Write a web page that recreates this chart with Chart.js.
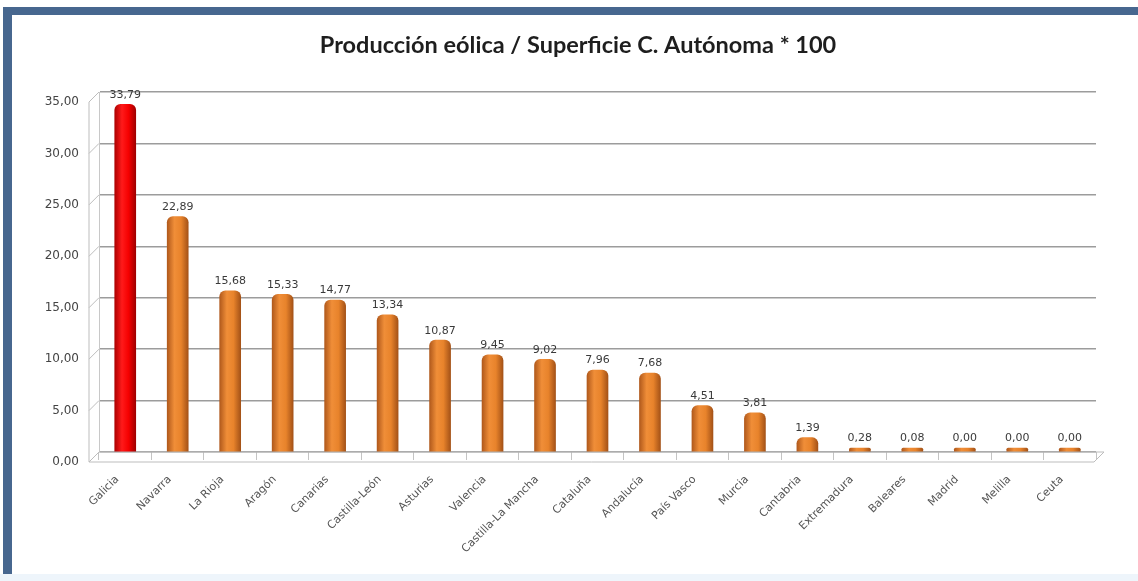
<!DOCTYPE html>
<html>
<head>
<meta charset="utf-8">
<script src="https://cdn.jsdelivr.net/npm/chart.js@4.4.1/dist/chart.umd.min.js"></script>
<style>
  html, body { margin: 0; padding: 0; background: #ffffff; }
  #frame {
    position: absolute; left: 3px; top: 7px; width: 1126px; height: 566px;
    border-top: 8px solid #47678f; border-left: 9px solid #47678f;
    background: #ffffff;
  }
  #foot { position: absolute; left: 0; top: 574px; width: 1138px; height: 7px; background: #eef5fb; }
  #wrap { position: absolute; left: 0; top: 0; width: 1138px; height: 581px; }
</style>
</head>
<body>
<div id="frame"></div>
<div id="foot"></div>
<div id="wrap"><canvas id="chartCanvas" width="1138" height="581"></canvas></div>
<script>
const categories = ['Galicia', 'Navarra', 'La Rioja', 'Aragón', 'Canarias', 'Castilla-León', 'Asturias',
    'Valencia', 'Castilla-La Mancha', 'Cataluña', 'Andalucía', 'País Vasco', 'Murcia', 'Cantabria',
    'Extremadura', 'Baleares', 'Madrid', 'Melilla', 'Ceuta'];
const values = [33.79, 22.89, 15.68, 15.33, 14.77, 13.34, 10.87, 9.45, 9.02, 7.96, 7.68, 4.51, 3.81, 1.39,
    0.28, 0.08, 0.00, 0.00, 0.00];
const yMin = 0;
const yMax = 35;
const yStep = 5;
const title = 'Producción eólica / Superficie C. Autónoma * 100';

function fmt(v) {
    return Number(v).toFixed(2).replace('.', ',');
}

// cylinder look: horizontal gradient across each bar
function barFill(c) {
    const chart = c.chart;
    const xs = chart.scales.x;
    const red = c.dataIndex === 0;
    if (!xs || !chart.chartArea) return red ? '#f00000' : '#e8852f';
    const x = xs.getPixelForValue(c.dataIndex);
    const g = chart.ctx.createLinearGradient(x - 11, 0, x + 11, 0);
    if (red) {
        g.addColorStop(0, '#a80000');
        g.addColorStop(0.35, '#ff1a1a');
        g.addColorStop(0.65, '#f50000');
        g.addColorStop(1, '#9a0000');
    } else {
        g.addColorStop(0, '#ad561a');
        g.addColorStop(0.35, '#f08e38');
        g.addColorStop(0.65, '#e8832b');
        g.addColorStop(1, '#a04f16');
    }
    return g;
}

// title centred a bit right of the canvas middle, like the source
const titlePlugin = {
    id: 'topTitle',
    afterDraw(chart) {
        const { ctx } = chart;
        ctx.save();
        ctx.font = 'bold 23.5px Lato';
        ctx.fillStyle = '#1e1e1e';
        ctx.textAlign = 'center';
        ctx.textBaseline = 'middle';
        ctx.fillText(title, 578, 45);
        ctx.restore();
    }
};

const floorPlugin = {
    id: 'floor',
    beforeDatasetsDraw(chart) {
        const { ctx, chartArea: a, scales } = chart;
        const d = 10;
        ctx.save();
        ctx.strokeStyle = '#bdbdbd';
        ctx.lineWidth = 1;
        // floor
        ctx.beginPath();
        ctx.moveTo(a.left, a.bottom);
        ctx.lineTo(a.right + 8, a.bottom);
        ctx.lineTo(a.right + 8 - d, a.bottom + d);
        ctx.lineTo(a.left - d, a.bottom + d);
        ctx.closePath();
        ctx.stroke();
        // left wall edge and connectors
        ctx.beginPath();
        ctx.moveTo(a.left - d, a.top + d);
        ctx.lineTo(a.left - d, a.bottom + d);
        scales.y.ticks.forEach(t => {
            const y = scales.y.getPixelForValue(t.value);
            ctx.moveTo(a.left - d, y + d);
            ctx.lineTo(a.left, y);
        });
        ctx.stroke();
        ctx.restore();
    }
};

const valueLabels = {
    id: 'valueLabels',
    afterDatasetsDraw(chart) {
        const { ctx } = chart;
        const meta = chart.getDatasetMeta(0);
        ctx.save();
        ctx.font = '11px "DejaVu Sans"';
        ctx.fillStyle = '#3a3a3a';
        ctx.textAlign = 'center';
        ctx.textBaseline = 'bottom';
        meta.data.forEach((bar, i) => {
            ctx.fillText(fmt(values[i]), bar.x, bar.y - 4);
        });
        ctx.restore();
    }
};

const ctx = document.getElementById('chartCanvas').getContext('2d');
new Chart(ctx, {
    type: 'bar',
    data: {
        labels: categories,
        datasets: [{
            label: title,
            data: values,
            backgroundColor: barFill,
            borderWidth: 0,
            borderRadius: { topLeft: 6, topRight: 6 },
            borderSkipped: 'start',
            barThickness: 21,
            minBarLength: 4
        }]
    },
    options: {
        responsive: false,
        animation: false,
        layout: { padding: { top: 92, right: 42, bottom: 0, left: 0 } },
        plugins: {
            legend: { display: false },
            tooltip: { enabled: false },
            title: { display: false }
        },
        scales: {
            x: {
                grid: { display: true, drawOnChartArea: false, offset: true, tickLength: 8, color: '#c4c4c4' },
                border: { display: false },
                ticks: {
                    color: '#555555',
                    font: { family: 'DejaVu Sans', size: 11 },
                    minRotation: 45,
                    maxRotation: 45,
                    autoSkip: false,
                    padding: 13,
                    labelOffset: -8
                },
                afterFit(scale) { scale.height = 129; }
            },
            y: {
                min: yMin,
                max: yMax,
                ticks: {
                    stepSize: yStep,
                    color: '#444444',
                    font: { family: 'DejaVu Sans', size: 12 },
                    padding: 20,
                    labelOffset: 10,
                    callback: v => fmt(v)
                },
                grid: { color: '#9c9c9c', lineWidth: 1.5, drawTicks: false },
                border: { display: true, color: '#c8c8c8' },
                afterFit(scale) { scale.width = 99; }
            }
        }
    },
    plugins: [floorPlugin, valueLabels, titlePlugin]
});
</script>
</body>
</html>
